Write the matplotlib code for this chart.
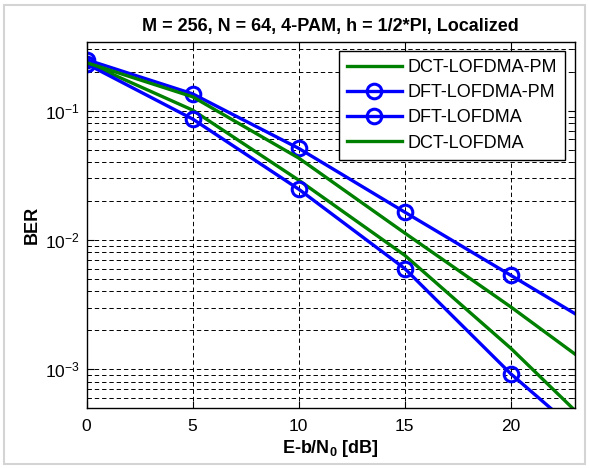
import numpy as np
import matplotlib
matplotlib.use('Agg')
import matplotlib.pyplot as plt
from matplotlib.ticker import LogLocator, NullFormatter
from matplotlib.patches import Rectangle

plt.rcParams['font.family'] = ['Liberation Sans', 'DejaVu Sans']
plt.rcParams['mathtext.fontset'] = 'custom'
plt.rcParams['mathtext.rm'] = 'Liberation Sans'
plt.rcParams['mathtext.bf'] = 'Liberation Sans:bold'

# Eb/N0 points (dB)
snr = [0, 5, 10, 15, 20, 25]
# BER
dct_pm = [0.235, 0.101, 0.029, 0.0076, 0.00145, 0.000232]
dft_pm = [0.230, 0.0862, 0.0247, 0.0060, 0.00092, 0.00018]
dft = [0.248, 0.135, 0.0511, 0.0164, 0.00532, 0.00172]
dct = [0.235, 0.128, 0.043, 0.0113, 0.00303, 0.000755]

names = ['DCT-LOFDMA-PM', 'DFT-LOFDMA-PM', 'DFT-LOFDMA', 'DCT-LOFDMA']

fig = plt.figure(figsize=(5.89, 4.68), dpi=100)
fig.patches.append(Rectangle((4/589, 4/468), 1-8/589, 1-9/468, transform=fig.transFigure,
                             fill=False, edgecolor='#d4d4d4', linewidth=1.5))
ax = fig.add_axes([0.147, 0.128, 0.8284, 0.7823])

green = '#008000'
blue = '#0000ff'
ax.semilogy(snr, dct_pm, color=green, lw=2.4, label=names[0])
ax.semilogy(snr, dft_pm, color=blue, lw=2.4, marker='o', ms=10.5, mfc='none',
            mew=2.2, label=names[1])
ax.semilogy(snr, dft, color=blue, lw=2.4, marker='o', ms=10.5, mfc='none',
            mew=2.2, label=names[2])
ax.semilogy(snr, dct, color=green, lw=2.4, label=names[3])

ax.set_xlim(0, 23)
ax.set_ylim(5e-4, 0.34)
ax.set_xticks([0, 5, 10, 15, 20])
ax.yaxis.set_major_locator(LogLocator(base=10, numticks=10))
ax.yaxis.set_minor_locator(LogLocator(base=10, subs=np.arange(2, 10), numticks=20))
ax.yaxis.set_minor_formatter(NullFormatter())

dash = (0, (4.5, 3))
ax.grid(True, which='major', color='k', ls=dash, lw=0.7)
ax.grid(True, which='minor', axis='y', color='k', ls=dash, lw=0.7)

ax.tick_params(which='both', direction='in', top=True, right=True, labelsize=12.5)
ax.tick_params(axis='x', pad=8)
ax.tick_params(axis='y', pad=5)
ax.tick_params(which='major', length=5)
ax.tick_params(which='minor', length=3)
for s in ax.spines.values():
    s.set_linewidth(1.0)

ax.set_title('M = 256, N = 64, 4-PAM, h = 1/2*PI, Localized', fontsize=13,
             fontweight='bold', pad=8)
ax.set_xlabel(r'E-b/N$_\mathbf{0}$ [dB]', fontsize=13, fontweight='bold', labelpad=3)
ax.set_ylabel('BER', fontsize=13, fontweight='bold', labelpad=3)

leg = ax.legend(loc='upper right', fontsize=13, handlelength=3.0, handletextpad=0.35,
                borderaxespad=0.5, labelspacing=0.45, fancybox=False,
                framealpha=1, edgecolor='k', borderpad=0.45)
leg.get_frame().set_linewidth(1.0)

fig.savefig('out.png', dpi=100)
